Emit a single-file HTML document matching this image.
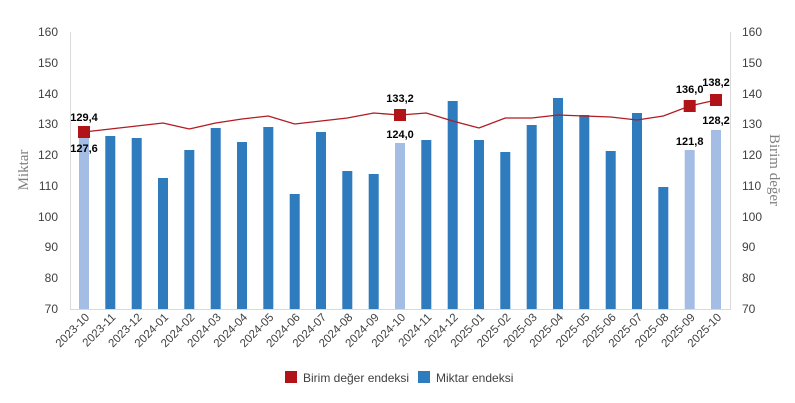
<!DOCTYPE html>
<html><head><meta charset="utf-8"><style>
body{margin:0;background:#fff}
svg{display:block;font-family:"Liberation Sans",sans-serif}
.t{font-size:12px;fill:#404040}
.d{font-size:11px;font-weight:bold;fill:#000}
</style></head><body>
<svg width="795" height="403" viewBox="0 0 795 403">
<line x1="70.5" y1="32" x2="70.5" y2="309" stroke="#d9d9d9"/>
<line x1="730.5" y1="32" x2="730.5" y2="309" stroke="#d9d9d9"/>
<line x1="70" y1="309.5" x2="731" y2="309.5" stroke="#d9d9d9"/>
<g class="t" text-anchor="end">
<text x="58" y="36">160</text><text x="58" y="67">150</text><text x="58" y="98">140</text><text x="58" y="128">130</text><text x="58" y="159">120</text><text x="58" y="190">110</text><text x="58" y="221">100</text><text x="58" y="251">90</text><text x="58" y="282">80</text><text x="58" y="313">70</text>
</g>
<g class="t">
<text x="742" y="36">160</text><text x="742" y="67">150</text><text x="742" y="98">140</text><text x="742" y="128">130</text><text x="742" y="159">120</text><text x="742" y="190">110</text><text x="742" y="221">100</text><text x="742" y="251">90</text><text x="742" y="282">80</text><text x="742" y="313">70</text>
</g>
<text transform="translate(28,170) rotate(-90)" text-anchor="middle" style="font-family:'Liberation Serif',serif;font-size:15px;fill:#808080">Miktar</text>
<text transform="translate(770,170) rotate(90)" text-anchor="middle" style="font-family:'Liberation Serif',serif;font-size:15px;fill:#808080">Birim değer</text>
<g fill="#2e7bbd">
<rect x="79" y="132" width="10" height="177" fill="#a4bde4"/>
<rect x="105.3" y="136" width="10" height="173"/>
<rect x="131.7" y="138" width="10" height="171"/>
<rect x="158" y="178" width="10" height="131"/>
<rect x="184.3" y="150" width="10" height="159"/>
<rect x="210.7" y="128" width="10" height="181"/>
<rect x="237" y="142" width="10" height="167"/>
<rect x="263.3" y="127" width="10" height="182"/>
<rect x="289.7" y="194" width="10" height="115"/>
<rect x="316" y="132" width="10" height="177"/>
<rect x="342.3" y="171" width="10" height="138"/>
<rect x="368.7" y="174" width="10" height="135"/>
<rect x="395" y="143" width="10" height="166" fill="#a4bde4"/>
<rect x="421.3" y="140" width="10" height="169"/>
<rect x="447.7" y="101" width="10" height="208"/>
<rect x="474" y="140" width="10" height="169"/>
<rect x="500.3" y="152" width="10" height="157"/>
<rect x="526.7" y="125" width="10" height="184"/>
<rect x="553" y="98" width="10" height="211"/>
<rect x="579.3" y="115" width="10" height="194"/>
<rect x="605.7" y="151" width="10" height="158"/>
<rect x="632" y="113" width="10" height="196"/>
<rect x="658.3" y="187" width="10" height="122"/>
<rect x="684.7" y="150" width="10" height="159" fill="#a4bde4"/>
<rect x="711" y="130" width="10" height="179" fill="#a4bde4"/>
</g>
<polyline fill="none" stroke="#b01c22" stroke-width="1.3" points="84,132 110.3,129 136.7,126 163,123 189.3,129 215.7,123 242,119 268.3,116 294.7,124 321,121 347.3,118 373.7,113 400,115 426.3,113 452.7,121 479,128 505.3,118 531.7,118 558,115 584.3,116 610.7,117 637,120 663.3,116 689.7,106 716,100"/>
<g fill="#b01419">
<rect x="78" y="126" width="12" height="12"/>
<rect x="394" y="109" width="12" height="12"/>
<rect x="683.7" y="100" width="12" height="12"/>
<rect x="710" y="94" width="12" height="12"/>
</g>
<g class="d" text-anchor="middle">
<text x="84" y="121">129,4</text><text x="84" y="152">127,6</text>
<text x="400" y="102">133,2</text><text x="400" y="138">124,0</text>
<text x="689.7" y="93">136,0</text><text x="716" y="86">138,2</text>
<text x="689.7" y="145">121,8</text><text x="716" y="124">128,2</text>
</g>
<g class="t" text-anchor="end" style="font-size:11.5px">
<text transform="translate(90,318) rotate(-45)">2023-10</text>
<text transform="translate(116.3,318) rotate(-45)">2023-11</text>
<text transform="translate(142.7,318) rotate(-45)">2023-12</text>
<text transform="translate(169,318) rotate(-45)">2024-01</text>
<text transform="translate(195.3,318) rotate(-45)">2024-02</text>
<text transform="translate(221.7,318) rotate(-45)">2024-03</text>
<text transform="translate(248,318) rotate(-45)">2024-04</text>
<text transform="translate(274.3,318) rotate(-45)">2024-05</text>
<text transform="translate(300.7,318) rotate(-45)">2024-06</text>
<text transform="translate(327,318) rotate(-45)">2024-07</text>
<text transform="translate(353.3,318) rotate(-45)">2024-08</text>
<text transform="translate(379.7,318) rotate(-45)">2024-09</text>
<text transform="translate(406,318) rotate(-45)">2024-10</text>
<text transform="translate(432.3,318) rotate(-45)">2024-11</text>
<text transform="translate(458.7,318) rotate(-45)">2024-12</text>
<text transform="translate(485,318) rotate(-45)">2025-01</text>
<text transform="translate(511.3,318) rotate(-45)">2025-02</text>
<text transform="translate(537.7,318) rotate(-45)">2025-03</text>
<text transform="translate(564,318) rotate(-45)">2025-04</text>
<text transform="translate(590.3,318) rotate(-45)">2025-05</text>
<text transform="translate(616.7,318) rotate(-45)">2025-06</text>
<text transform="translate(643,318) rotate(-45)">2025-07</text>
<text transform="translate(669.3,318) rotate(-45)">2025-08</text>
<text transform="translate(695.7,318) rotate(-45)">2025-09</text>
<text transform="translate(722,318) rotate(-45)">2025-10</text>
</g>
<rect x="285" y="371" width="12" height="12" fill="#b01419"/>
<text x="303" y="382" class="t">Birim değer endeksi</text>
<rect x="418" y="371" width="12" height="12" fill="#2e7bbd"/>
<text x="436" y="382" class="t">Miktar endeksi</text>
</svg>
</body></html>
